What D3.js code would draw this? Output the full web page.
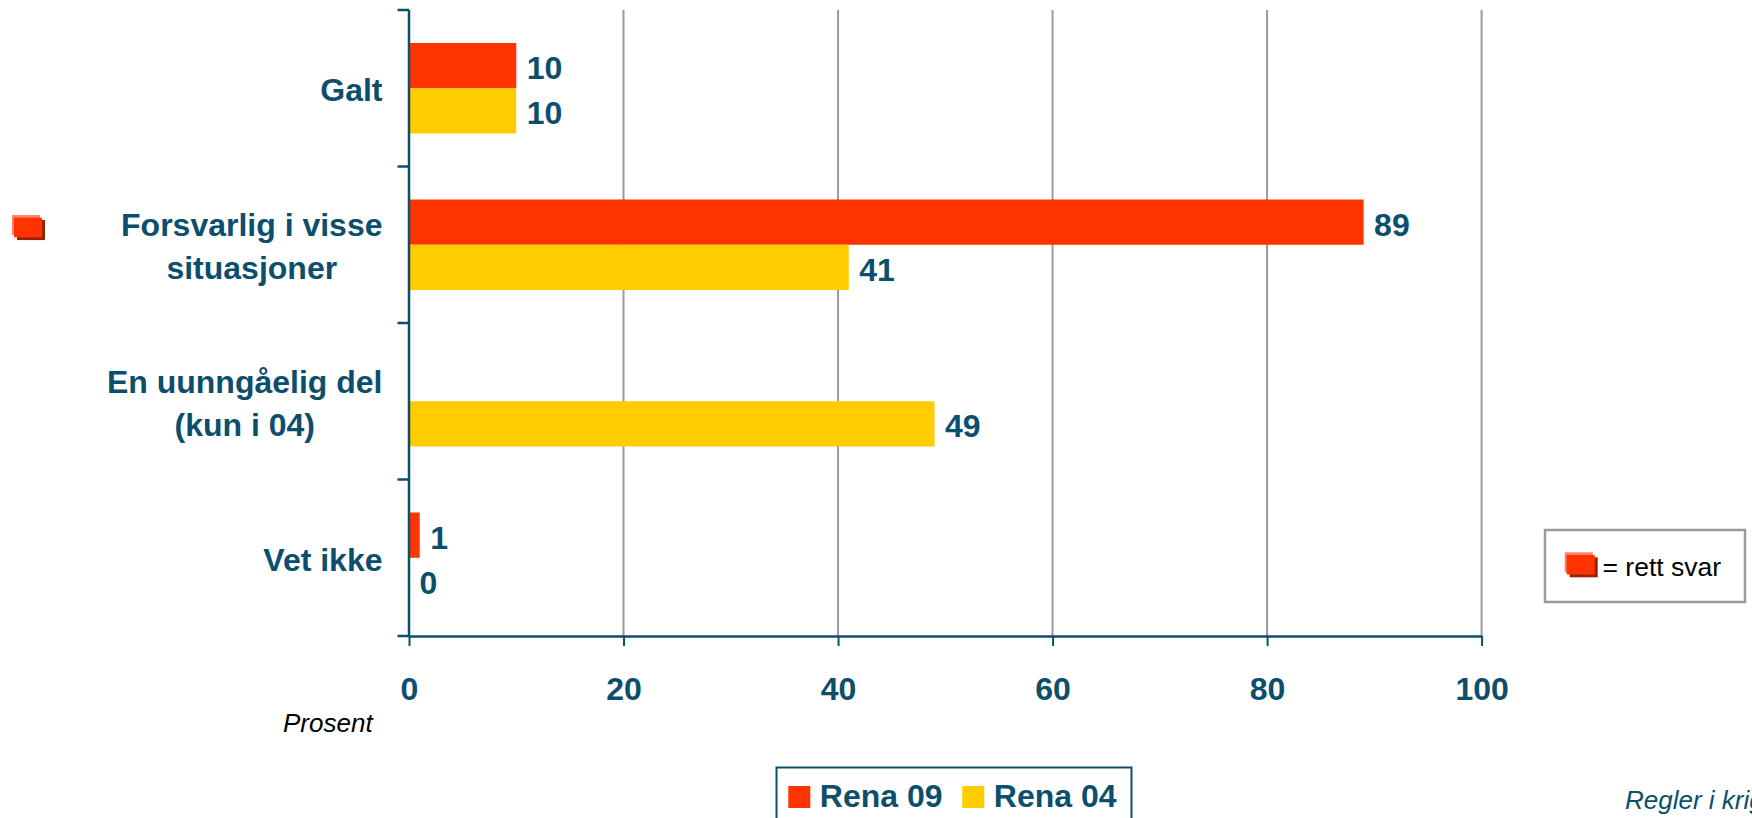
<!DOCTYPE html>
<html>
<head>
<meta charset="utf-8">
<script src="https://cdn.jsdelivr.net/npm/d3@7"></script>
<style>
  html, body { margin: 0; padding: 0; background: #fff; overflow: hidden; }
  svg { display: block; font-family: "Liberation Sans", Arial, sans-serif; }
</style>
</head>
<body>
<div id="chart"></div>
<script>
// ---- data ----
const categories = ["Galt", "Forsvarlig i visse situasjoner", "En uunngåelig del (kun i 04)", "Vet ikke"];
const categoryLines = [["Galt"], ["Forsvarlig i visse", "situasjoner"], ["En uunngåelig del", "(kun i 04)"], ["Vet ikke"]];
const seriesNames = ["Rena 09", "Rena 04"];
const rena09 = [10, 89, null, 1];
const rena04 = [10, 41, 49, 0];
const xTicks = [0, 20, 40, 60, 80, 100];
const correctAnswer = "Forsvarlig i visse situasjoner";
const axisTitle = "Prosent";
const noteText = "= rett svar";
const footerText = "Regler i krig";

// ---- style ----
const W = 1752, H = 818;
const teal = "#0B4F6C";
const colors = { "Rena 09": "#FF3300", "Rena 04": "#FFCC00" };

const svg = d3.select("#chart").append("svg").attr("width", W).attr("height", H);

const x = d3.scaleLinear().domain([0, 100]).range([409, 1481.6]);
const y = d3.scaleBand().domain(categories).range([10, 636]).padding(0);
const bw = y.bandwidth();
const inner = d3.scaleBand().domain(seriesNames).range([33, bw - 33]).padding(0);

// gridlines
svg.append("g").selectAll("line").data(xTicks.filter(d => d > 0)).join("line")
  .attr("x1", d => x(d)).attr("x2", d => x(d))
  .attr("y1", y.range()[0]).attr("y2", y.range()[1])
  .attr("stroke", "#9a9a9a").attr("stroke-width", 2);

// bars
const rows = categories.map((c, i) => ({ cat: c, vals: [
  { s: "Rena 09", v: rena09[i] }, { s: "Rena 04", v: rena04[i] }] }));

const g = svg.append("g");
rows.forEach(r => {
  r.vals.forEach(d => {
    if (d.v === null) return;
    const by = y(r.cat) + inner(d.s);
    g.append("rect")
      .attr("x", x(0)).attr("y", by)
      .attr("width", x(d.v) - x(0)).attr("height", inner.bandwidth())
      .attr("fill", colors[d.s]);
    g.append("text")
      .attr("x", x(d.v) + 10.5).attr("y", by + inner.bandwidth() / 2 + 13.5)
      .attr("fill", teal).attr("font-size", 32).attr("font-weight", "bold")
      .text(d.v);
  });
});

// x axis
const xAxis = svg.append("g").attr("transform", `translate(0,${y.range()[1]})`)
  .call(d3.axisBottom(x).tickValues(xTicks).tickSize(10).tickSizeOuter(0));
xAxis.select(".domain").attr("stroke", teal).attr("stroke-width", 2.5);
xAxis.selectAll(".tick line").attr("stroke", teal).attr("stroke-width", 2);
xAxis.selectAll(".tick text").attr("y", 41).attr("fill", teal)
  .attr("font-size", 32).attr("font-weight", "bold")
  .attr("font-family", "Liberation Sans, Arial, sans-serif");

// y axis (ticks at band boundaries)
const bounds = categories.map(c => y(c)).concat([y.range()[1]]);
svg.append("line").attr("x1", x(0)).attr("x2", x(0))
  .attr("y1", y.range()[0]).attr("y2", y.range()[1])
  .attr("stroke", teal).attr("stroke-width", 2.5);
svg.append("g").selectAll("line").data(bounds).join("line")
  .attr("x1", x(0) - 11.5).attr("x2", x(0))
  .attr("y1", d => d).attr("y2", d => d)
  .attr("stroke", teal).attr("stroke-width", 2.5);

// category labels
const labelRight = 382.5, lineH = 42.8;
categories.forEach((c, i) => {
  const lines = categoryLines[i];
  const cy = y(c) + bw / 2 + 13;
  const tg = svg.append("g");
  const texts = lines.map((ln, k) => tg.append("text")
    .attr("y", cy + (k - (lines.length - 1) / 2) * lineH)
    .attr("fill", teal).attr("font-size", 32).attr("font-weight", "bold")
    .attr("text-anchor", "middle").text(ln));
  const maxW = d3.max(texts, t => t.node().getComputedTextLength());
  texts.forEach(t => t.attr("x", labelRight - maxW / 2));
});

// correct-answer marker icon
function marker(gx, gy) {
  const m = svg.append("g").attr("transform", `translate(${gx},${gy})`);
  m.append("rect").attr("x", 0).attr("y", 0).attr("width", 28).attr("height", 20).attr("fill", "#FF8066");
  m.append("rect").attr("x", 5).attr("y", 5).attr("width", 28).attr("height", 20).attr("fill", "#992200");
  m.append("rect").attr("x", 2).attr("y", 2.7).attr("width", 28).attr("height", 19.6).attr("fill", "#FF3300");
}
marker(12, y(correctAnswer) + bw / 2 - 29.7);

// axis title
svg.append("text").attr("x", 283).attr("y", 731.5)
  .attr("font-size", 26).attr("font-style", "italic").attr("fill", "#000").text(axisTitle);

// bottom legend
const lg = svg.append("g");
lg.append("rect").attr("x", 776.5).attr("y", 767.5).attr("width", 355).attr("height", 70)
  .attr("fill", "#fff").attr("stroke", teal).attr("stroke-width", 2);
const legX = [788.3, 962.3];
seriesNames.forEach((s, i) => {
  lg.append("rect").attr("x", legX[i]).attr("y", 786).attr("width", 22).attr("height", 22).attr("fill", colors[s]);
  lg.append("text").attr("x", legX[i] + 31.5).attr("y", 806.7)
    .attr("fill", teal).attr("font-size", 32).attr("font-weight", "bold").text(s);
});

// right note box
svg.append("rect").attr("x", 1545).attr("y", 530).attr("width", 200).attr("height", 72)
  .attr("fill", "#fff").attr("stroke", "#9a9a9a").attr("stroke-width", 2.5);
marker(1564.7, 552.3);
svg.append("text").attr("x", 1602.5).attr("y", 576)
  .attr("font-size", 26.5).attr("fill", "#000").text(noteText);

// footer
svg.append("text").attr("x", 1625).attr("y", 809.3)
  .attr("font-size", 26).attr("font-style", "italic").attr("fill", teal).text(footerText);
</script>
</body>
</html>
